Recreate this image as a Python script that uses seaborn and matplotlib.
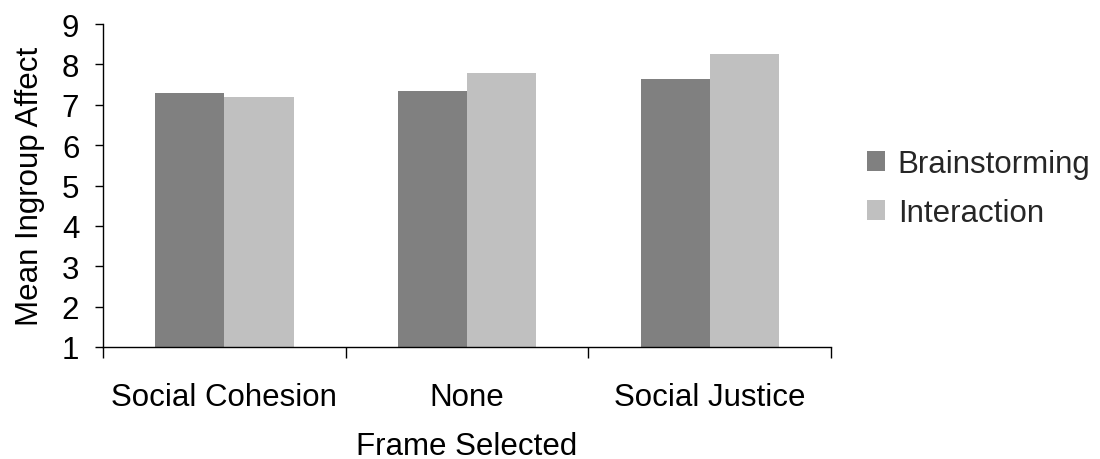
import matplotlib
matplotlib.use("Agg")
import matplotlib.pyplot as plt
from matplotlib.ticker import FixedLocator
import seaborn as sns
import pandas as pd

frames = ["Social Cohesion", "None", "Social Justice"]
conditions = ["Brainstorming", "Interaction"]
brainstorming = [7.30, 7.35, 7.65]
interaction = [7.20, 7.80, 8.25]
y_ticks = [1, 2, 3, 4, 5, 6, 7, 8, 9]

df = pd.DataFrame({
    "Frame": frames * 2,
    "Condition": [conditions[0]] * 3 + [conditions[1]] * 3,
    "Affect": brainstorming + interaction,
})

sns.set_theme(style="white")
plt.rcParams["font.family"] = ["Liberation Sans", "DejaVu Sans"]
fs = 22.5

fig = plt.figure(figsize=(11, 4.6), dpi=100)
ax = fig.add_axes([0.0936, 0.2435, 0.662, 0.702])

palette = {"Brainstorming": "#808080", "Interaction": "#c0c0c0"}
sns.barplot(data=df, x="Frame", y="Affect", hue="Condition", order=frames,
            hue_order=conditions, palette=palette, width=0.57, gap=0,
            saturation=1, edgecolor="none", linewidth=0, ax=ax)

ax.set_ylim(1, 9)
ax.set_xlim(-0.5, 2.5)
ax.set_yticks(y_ticks)
ax.set_yticklabels([str(t) for t in y_ticks], fontsize=fs)
ax.set_xticks(range(len(frames)))
ax.set_xticklabels(frames, fontsize=fs)
ax.xaxis.set_minor_locator(FixedLocator([-0.5, 0.5, 1.5, 2.5]))

ax.tick_params(axis="x", which="major", length=0, pad=25, colors="black")
ax.tick_params(axis="x", which="minor", bottom=True, length=8, width=1, color="black")
ax.tick_params(axis="y", which="major", left=True, length=6, width=1, pad=11, colors="black")

for side in ["top", "right"]:
    ax.spines[side].set_visible(False)
for side in ["left", "bottom"]:
    ax.spines[side].set_color("black")
    ax.spines[side].set_linewidth(1)

ax.set_xlabel("Frame Selected", fontsize=fs, labelpad=14, color="black")
ax.set_ylabel("Mean Ingroup Affect", fontsize=fs, labelpad=12, color="black")

leg = ax.legend(loc="center left", bbox_to_anchor=(1.01, 0.49), frameon=False,
                fontsize=fs, handlelength=0.6, handleheight=0.6,
                handletextpad=0.4, labelspacing=0.6, title=None)

fig.savefig("out.png", dpi=100)
